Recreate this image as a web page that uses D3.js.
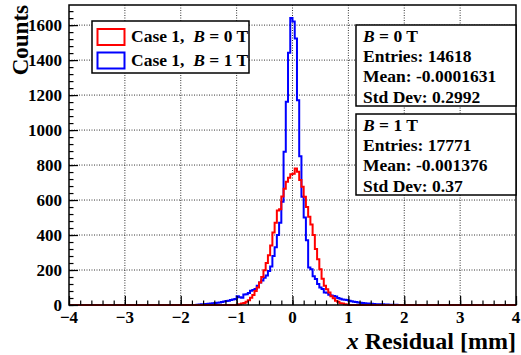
<!DOCTYPE html>
<html>
<head>
<meta charset="utf-8">
<script src="https://cdn.jsdelivr.net/npm/d3@7"></script>
<style>
  body { margin: 0; background: #fff; }
  text { font-family: "Liberation Serif", "Times New Roman", serif; font-weight: bold; }
</style>
</head>
<body>
<script>
var width = 521;
var height = 355;

// bin width 0.04 mm, histogram range -4..4
var binWidth = 0.04;
var xDomain = [-4, 4];
var yMax = 1715;

// B = 0 T (red), first bin starts at -1.00
var redStart = -1.00;
var redCounts = [2, 4, 8, 12, 18, 27, 42, 57, 80, 100,
  128, 160, 198, 240, 285, 340, 415, 470, 540, 548,
  620, 665, 705, 728, 748, 750, 781, 762, 714, 676,
  619, 560, 505, 460, 400, 320, 262, 205, 150, 110,
  90, 72, 50, 38, 24, 19, 10, 8, 5, 3];

// B = 1 T (blue), first bin starts at -1.72
var blueStart = -1.72;
var blueCounts = [2, 3, 4, 5, 6, 7, 8, 10, 11, 13,
  15, 17, 20, 23, 24, 28, 32, 34, 50, 44,
  42, 60, 62, 68, 82, 86, 92, 110, 128, 140,
  156, 168, 195, 220, 280, 330, 400, 470, 590, 876,
  1162, 1442, 1640, 1620, 1524, 1170, 851, 619, 500, 370,
  215, 205, 165, 148, 120, 100, 92, 72, 70, 58,
  55, 52, 48, 40, 36, 32, 30, 28, 25, 22,
  19, 17, 15, 13, 12, 10, 9, 8, 7, 6,
  5, 5, 4, 4, 3, 3, 2, 2, 1, 1];

var xTicks = [-4, -3, -2, -1, 0, 1, 2, 3, 4];
var yTicks = [0, 200, 400, 600, 800, 1000, 1200, 1400, 1600];

var legendLabels = [["Case 1,  ", "B", " = 0 T"], ["Case 1,  ", "B", " = 1 T"]];
var statsB0 = ["Entries: 14618", "Mean: -0.0001631", "Std Dev: 0.2992"];
var statsB1 = ["Entries: 17771", "Mean: -0.001376", "Std Dev: 0.37"];

var padL = 69, padR = 516, padT = 5, padB = 305;

var x = d3.scaleLinear().domain(xDomain).range([padL, padR]);
var y = d3.scaleLinear().domain([0, yMax]).range([padB, padT]);

var svg = d3.select("body").append("svg")
  .attr("width", width)
  .attr("height", height);

// grid
svg.append("g").selectAll("line")
  .data(xTicks.slice(1, -1))
  .enter().append("line")
  .attr("x1", function(d) { return x(d); })
  .attr("x2", function(d) { return x(d); })
  .attr("y1", padT).attr("y2", padB)
  .attr("stroke", "#333").attr("stroke-width", 1)
  .attr("stroke-dasharray", "1,1.5");

svg.append("g").selectAll("line")
  .data(yTicks.slice(1))
  .enter().append("line")
  .attr("x1", padL).attr("x2", padR)
  .attr("y1", function(d) { return y(d); })
  .attr("y2", function(d) { return y(d); })
  .attr("stroke", "#333").attr("stroke-width", 1)
  .attr("stroke-dasharray", "1,1.5");

// full-range histogram points, zero outside the filled bins
function histPoints(start, counts) {
  var n = Math.round((xDomain[1] - xDomain[0]) / binWidth);
  var first = Math.round((start - xDomain[0]) / binWidth);
  var pts = [];
  for (var i = 0; i < n; i++) {
    var k = i - first;
    var v = (k >= 0 && k < counts.length) ? counts[k] : 0;
    pts.push([xDomain[0] + i * binWidth, v]);
  }
  pts.push([xDomain[1], 0]);
  return pts;
}

var line = d3.line()
  .x(function(d) { return x(d[0]); })
  .y(function(d) { return y(d[1]); })
  .curve(d3.curveStepAfter);

svg.append("path")
  .attr("d", line(histPoints(blueStart, blueCounts)))
  .attr("fill", "none").attr("stroke", "#0000ff").attr("stroke-width", 2);

svg.append("path")
  .attr("d", line(histPoints(redStart, redCounts)))
  .attr("fill", "none").attr("stroke", "#ff0000").attr("stroke-width", 2);

// frame
svg.append("rect")
  .attr("x", padL).attr("y", padT)
  .attr("width", padR - padL).attr("height", padB - padT)
  .attr("fill", "none").attr("stroke", "#000").attr("stroke-width", 1.5);

// axes with inward ticks
var xAxis = d3.axisTop(x).tickValues(xTicks).tickSize(9).tickFormat("");
var xMinor = d3.axisTop(x).tickValues(d3.range(-4, 4.001, 0.2)).tickSize(4.5).tickFormat("");
var yAxis = d3.axisRight(y).tickValues(yTicks).tickSize(9).tickFormat("");
var yMinor = d3.axisRight(y).tickValues(d3.range(0, yMax, 40)).tickSize(4.5).tickFormat("");

[xAxis, xMinor].forEach(function(a) {
  var g = svg.append("g").attr("transform", "translate(0," + padB + ")").call(a);
  g.select(".domain").remove();
  g.selectAll("line").attr("stroke-width", 1.2);
});
[yAxis, yMinor].forEach(function(a) {
  var g = svg.append("g").attr("transform", "translate(" + padL + ",0)").call(a);
  g.select(".domain").remove();
  g.selectAll("line").attr("stroke-width", 1.2);
});

// tick labels
svg.append("g").selectAll("text")
  .data(xTicks).enter().append("text")
  .attr("x", function(d) { return x(d); })
  .attr("y", 323)
  .attr("text-anchor", "middle")
  .attr("font-size", 17)
  .text(function(d) { return d < 0 ? "\u2212" + (-d) : d; });

svg.append("g").selectAll("text")
  .data(yTicks).enter().append("text")
  .attr("x", 62)
  .attr("y", function(d) { return y(d) + 6; })
  .attr("text-anchor", "end")
  .attr("font-size", 17)
  .text(function(d) { return d; });

// axis titles
svg.append("text")
  .attr("transform", "translate(28," + padT + ") rotate(-90)")
  .attr("text-anchor", "end")
  .attr("font-size", 23)
  .text("Counts");

var xt = svg.append("text")
  .attr("x", padR).attr("y", 349)
  .attr("text-anchor", "end")
  .attr("font-size", 24);
xt.append("tspan").attr("font-style", "italic").text("x");
xt.append("tspan").text(" Residual [mm]");

// legend
var colors = ["#ff0000", "#0000ff"];
svg.append("rect")
  .attr("x", 92).attr("y", 21).attr("width", 157).attr("height", 52)
  .attr("fill", "#fff").attr("stroke", "#000").attr("stroke-width", 1.5);

legendLabels.forEach(function(l, i) {
  svg.append("rect")
    .attr("x", 97.5).attr("y", 29 + i * 23.5).attr("width", 27).attr("height", 16)
    .attr("fill", "none").attr("stroke", colors[i]).attr("stroke-width", 2);
  var t = svg.append("text")
    .attr("x", 131).attr("y", 42 + i * 23.5)
    .attr("font-size", 17.5)
    .attr("xml:space", "preserve");
  t.append("tspan").text(l[0]);
  t.append("tspan").attr("font-style", "italic").text(l[1]);
  t.append("tspan").text(l[2]);
});

// stats boxes
function statsBox(y0, title, lines) {
  svg.append("rect")
    .attr("x", 356).attr("y", y0).attr("width", 160).attr("height", 81)
    .attr("fill", "#fff").attr("stroke", "#000").attr("stroke-width", 1.5);
  var t = svg.append("text").attr("x", 363).attr("y", y0 + 16.5).attr("font-size", 17.5);
  t.append("tspan").attr("font-style", "italic").text("B");
  t.append("tspan").text(" = " + title);
  lines.forEach(function(s, i) {
    svg.append("text")
      .attr("x", 363).attr("y", y0 + 37 + i * 20.3)
      .attr("font-size", 17.5)
      .text(s);
  });
}
statsBox(25, "0 T", statsB0);
statsBox(114, "1 T", statsB1);
</script>
</body>
</html>
